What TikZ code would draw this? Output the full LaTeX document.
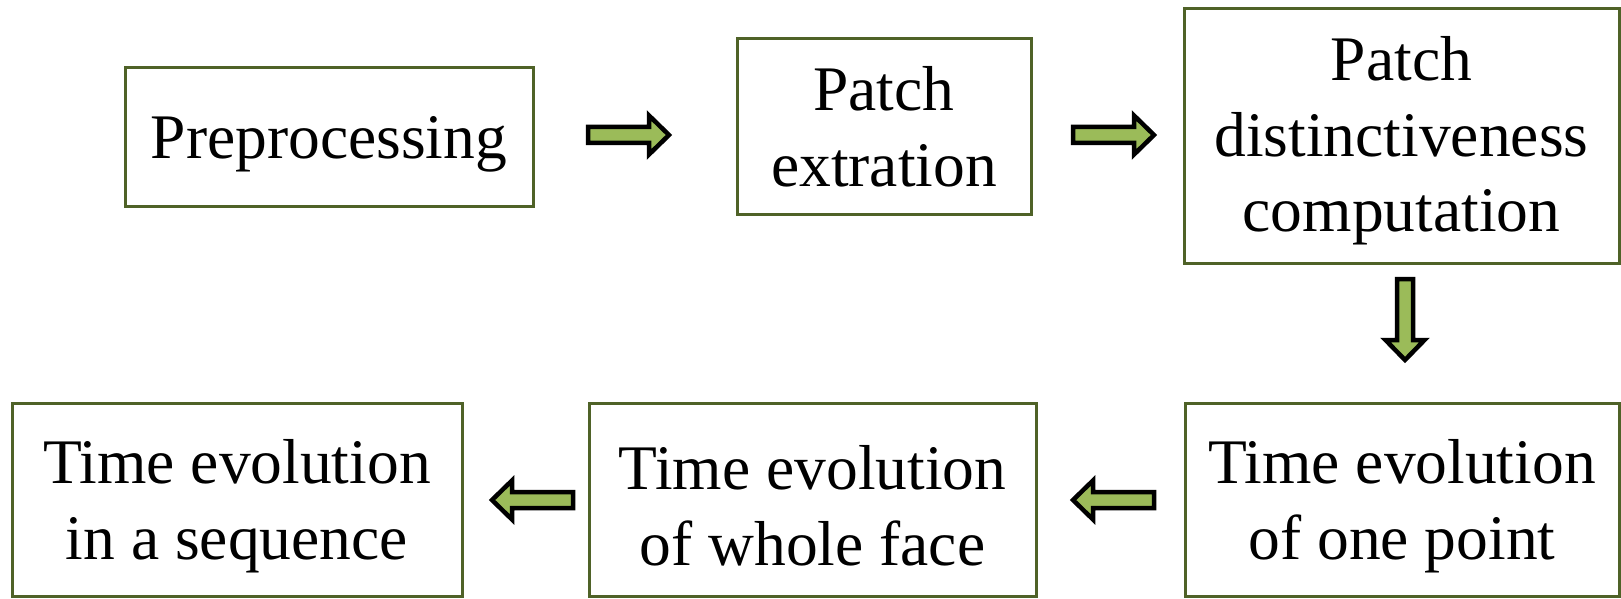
\documentclass[tikz,border=0pt]{standalone}
\usepackage{fontspec}
\setmainfont{Liberation Serif}
\definecolor{boxline}{RGB}{79,98,40}
\definecolor{arrowfill}{RGB}{155,187,89}
\begin{document}
\begin{tikzpicture}[x=1pt,y=1pt,
  stage/.style={draw=boxline, line width=3pt, fill=white, inner sep=0pt},
  stagetext/.style={align=center, inner sep=0pt, font=\fontsize{63.5}{75.5}\selectfont},
  arrowstyle/.style={draw=black, fill=arrowfill, line width=4.5pt, line join=miter},
  pics/blk/.style={code={\draw[arrowstyle] (0,-8)--(#1-20,-8)--(#1-20,-19.5)--(#1,0)--(#1-20,19.5)--(#1-20,8)--(0,8)--cycle;}}]
\useasboundingbox (0,0) rectangle (1621,598);
% boxes (pixel coords, y measured from bottom)
\node[stage, minimum width=408, minimum height=139,
  label={[stagetext, yshift=-7pt]center:Preprocessing}] (pre) at (329,460.5) {};
\node[stage, minimum width=294, minimum height=176,
  label={[stagetext]center:{Patch\\extration}}] (ext) at (884,471) {};
\node[stage, minimum width=435, minimum height=254,
  label={[stagetext, yshift=-5pt]center:{Patch\\distinctiveness\\computation}}] (dist) at (1401.5,462) {};
\node[stage, minimum width=434, minimum height=193,
  label={[stagetext, yshift=-6.5pt]center:{Time evolution\\of one point}}] (one) at (1402,98.5) {};
\node[stage, minimum width=447, minimum height=193,
  label={[stagetext, yshift=-6.5pt]center:{Time evolution\\of whole face}}] (whole) at (812.5,98.5) {};
\node[stage, minimum width=450, minimum height=193,
  label={[stagetext, yshift=-6.5pt]center:{Time evolution\\in a sequence}}] (seq) at (237,98.5) {};
% block arrows
\pic at (588,463) {blk=81};
\pic at (1073,463) {blk=81};
\pic[rotate=-90] at (1405,319) {blk=81};
\pic[rotate=180] at (1154,98) {blk=81};
\pic[rotate=180] at (573,98) {blk=81};
\end{tikzpicture}
\end{document}
